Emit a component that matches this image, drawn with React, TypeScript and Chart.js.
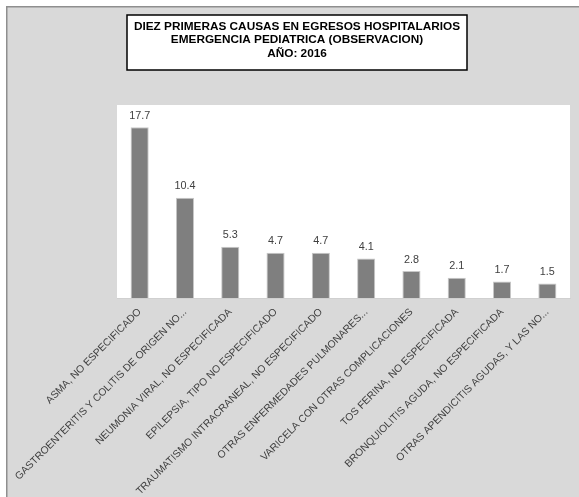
import React, { useEffect, useRef } from "react";
import { Chart, registerables } from "chart.js";

Chart.register(...registerables);

const TITLE_LINES = [
  "DIEZ PRIMERAS CAUSAS EN EGRESOS HOSPITALARIOS",
  "EMERGENCIA PEDIATRICA (OBSERVACION)",
  "AÑO: 2016",
];

const CATEGORIES = [
  "ASMA, NO ESPECIFICADO",
  "GASTROENTERITIS Y COLITIS DE ORIGEN NO...",
  "NEUMONIA VIRAL, NO ESPECIFICADA",
  "EPILEPSIA, TIPO NO ESPECIFICADO",
  "TRAUMATISMO INTRACRANEAL, NO ESPECIFICADO",
  "OTRAS ENFERMEDADES PULMONARES...",
  "VARICELA CON OTRAS COMPLICACIONES",
  "TOS FERINA, NO ESPECIFICADA",
  "BRONQUIOLITIS AGUDA, NO ESPECIFICADA",
  "OTRAS APENDICITIS AGUDAS, Y LAS NO...",
];

const VALUES = [17.7, 10.4, 5.3, 4.7, 4.7, 4.1, 2.8, 2.1, 1.7, 1.5];

const Y_MAX = 20;

const FONT = "'Liberation Sans', Arial, sans-serif";

const W = 579;
const H = 497;

const backgroundPlugin = {
  id: "bgPlugin",
  beforeDraw(chart: any) {
    const { ctx, chartArea } = chart;
    ctx.save();
    ctx.fillStyle = "#ffffff";
    ctx.fillRect(0, 0, W, H);
    ctx.fillStyle = "#d9d9d9";
    ctx.fillRect(6, 6, W - 6, H - 6);
    ctx.strokeStyle = "#8f8f8f";
    ctx.lineWidth = 1.5;
    ctx.beginPath();
    ctx.moveTo(6.75, H);
    ctx.lineTo(6.75, 6.75);
    ctx.lineTo(W, 6.75);
    ctx.stroke();
    ctx.fillStyle = "#ffffff";
    ctx.fillRect(
      chartArea.left,
      chartArea.top,
      chartArea.right - chartArea.left,
      chartArea.bottom - chartArea.top
    );
    ctx.restore();
  },
};

const titlePlugin = {
  id: "titleBox",
  afterDraw(chart: any) {
    const { ctx } = chart;
    ctx.save();
    const x0 = 127;
    const y0 = 15;
    const w = 340;
    const h = 55;
    ctx.fillStyle = "#ffffff";
    ctx.fillRect(x0, y0, w, h);
    ctx.strokeStyle = "#000000";
    ctx.lineWidth = 1.5;
    ctx.strokeRect(x0, y0, w, h);
    ctx.fillStyle = "#000000";
    ctx.font = `bold 11.8px ${FONT}`;
    ctx.textAlign = "center";
    ctx.textBaseline = "middle";
    TITLE_LINES.forEach((line, i) => {
      ctx.fillText(line, x0 + w / 2, 26.5 + i * 13.6);
    });
    ctx.restore();
  },
};

const valueLabelPlugin = {
  id: "valueLabels",
  afterDatasetsDraw(chart: any) {
    const { ctx } = chart;
    const meta = chart.getDatasetMeta(0);
    const data = chart.data.datasets[0].data as number[];
    ctx.save();
    ctx.fillStyle = "#404040";
    ctx.font = `10.8px ${FONT}`;
    ctx.textAlign = "center";
    ctx.textBaseline = "bottom";
    meta.data.forEach((bar: any, i: number) => {
      ctx.fillText(data[i].toFixed(1), bar.x, bar.y - 6);
    });
    ctx.restore();
  },
};

export default function App() {
  const ref = useRef<HTMLCanvasElement | null>(null);

  useEffect(() => {
    if (!ref.current) return;
    const chart = new Chart(ref.current, {
      type: "bar",
      data: {
        labels: CATEGORIES,
        datasets: [
          {
            data: VALUES,
            backgroundColor: "#7f7f7f",
            borderColor: "#c8c8c8",
            borderWidth: 1,
            barPercentage: 0.8,
            categoryPercentage: 0.5,
          },
        ],
      },
      options: {
        responsive: false,
        animation: false,
        devicePixelRatio: 1,
        layout: { padding: { left: 117, right: 9, top: 105, bottom: 0 } },
        plugins: {
          legend: { display: false },
          tooltip: { enabled: false },
          title: { display: false },
        },
        scales: {
          x: {
            grid: { display: false, drawTicks: false },
            border: { display: true, color: "#d0d0d0", width: 1 },
            ticks: {
              color: "#404040",
              font: { family: FONT, size: 10.3 },
              minRotation: 45,
              maxRotation: 45,
              autoSkip: false,
              padding: 8,
            },
            afterFit(scale: any) {
              scale.height = H - 298;
            },
          },
          y: {
            display: false,
            min: 0,
            max: Y_MAX,
          },
        },
      },
      plugins: [backgroundPlugin, valueLabelPlugin, titlePlugin],
    });
    return () => chart.destroy();
  }, []);

  return (
    <div style={{ position: "fixed", left: 0, top: 0, width: W, height: H }}>
      <canvas ref={ref} width={W} height={H} style={{ width: W, height: H }} />
    </div>
  );
}
